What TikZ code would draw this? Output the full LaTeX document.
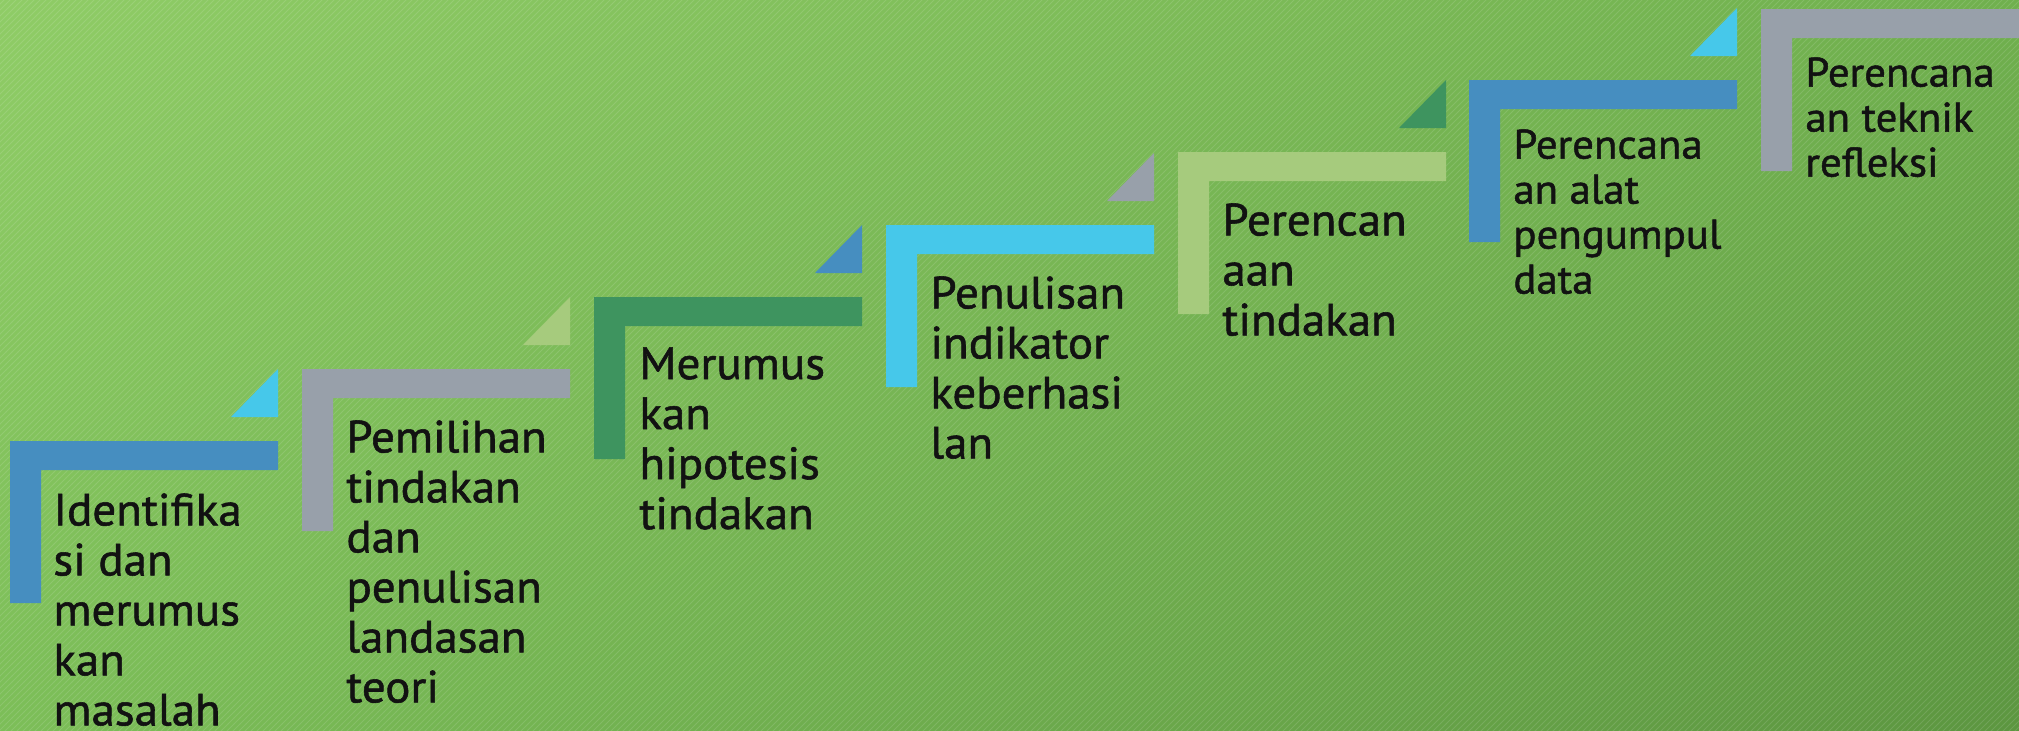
\documentclass[tikz,border=0pt]{standalone}
\usepackage{fontspec}
\setmainfont{PT Sans}[FakeBold=1.2, FakeStretch=1.04]
\usetikzlibrary{patterns,shadings}
\definecolor{cblue}{RGB}{70,142,192}
\definecolor{ccyan}{RGB}{70,200,234}
\definecolor{cgray}{RGB}{152,160,170}
\definecolor{clgreen}{RGB}{166,203,125}
\definecolor{cdgreen}{RGB}{62,148,95}
\definecolor{bgUL}{RGB}{143,204,102}
\definecolor{bgUR}{RGB}{112,176,78}
\definecolor{bgLL}{RGB}{124,190,88}
\definecolor{bgLR}{RGB}{92,150,64}
\tikzset{
  lbl/.style={anchor=north west, inner sep=0pt, align=left, text=black!93,
    font={\fontsize{22.6}{25}\selectfont}},
  lblsmall/.style={lbl, font={\fontsize{20.6}{22.5}\selectfont}},
}
% L-shaped step: #1 x, #2 y, #3 colour
\newcommand{\stepL}[3]{\fill[#3] (#1,#2) -- ++(268,0) -- ++(0,29) -- ++(-237,0) -- ++(0,133) -- ++(-31,0) -- cycle;}
% triangle above step: right edge at x+268, bottom at y-24, top at y-72
\newcommand{\stepT}[3]{\fill[#3] (#1+221,#2-24) -- (#1+268,#2-24) -- (#1+268,#2-72) -- cycle;}
\begin{document}
\begin{tikzpicture}[x=0.5pt,y=-0.5pt]
\useasboundingbox (0,0) rectangle (2019,730);
\shade[upper left=bgUL, upper right=bgUR, lower left=bgLL, lower right=bgLR] (0,0) rectangle (2019,730);
\fill[pattern=north east lines, pattern color=white, opacity=0.12] (0,0) rectangle (2019,730);
% steps
\stepL{10}{441}{cblue}
\stepL{302}{369}{cgray}
\stepL{594}{297}{cdgreen}
\stepL{886}{225}{ccyan}
\stepL{1178}{152}{clgreen}
\stepL{1469}{80}{cblue}
\fill[cgray] (1761,9) -- (2019,9) -- (2019,38) -- (1792,38) -- (1792,171) -- (1761,171) -- cycle;
% triangles
\stepT{10}{441}{ccyan}
\stepT{302}{369}{clgreen}
\stepT{594}{297}{cblue}
\stepT{886}{225}{cgray}
\stepT{1178}{152}{cdgreen}
\stepT{1469}{80}{ccyan}
% labels
\node[lbl] (t1) at (53,493) {Identifika\\si dan\\merumus\\kan\\masalah};
\node[lbl] (t2) at (346,420) {Pemilihan\\tindakan\\dan\\penulisan\\landasan\\teori};
\node[lbl] (t3) at (639,347) {Merumus\\kan\\hipotesis\\tindakan};
\node[lbl] (t4) at (930,276) {Penulisan\\indikator\\keberhasi\\lan};
\node[lbl] (t5) at (1222,203) {Perencan\\aan\\tindakan};
\node[lblsmall] (t6) at (1513,129) {Perencana\\an alat\\pengumpul\\data};
\node[lblsmall] (t7) at (1805,57) {Perencana\\an teknik\\refleksi};
\end{tikzpicture}
\end{document}
